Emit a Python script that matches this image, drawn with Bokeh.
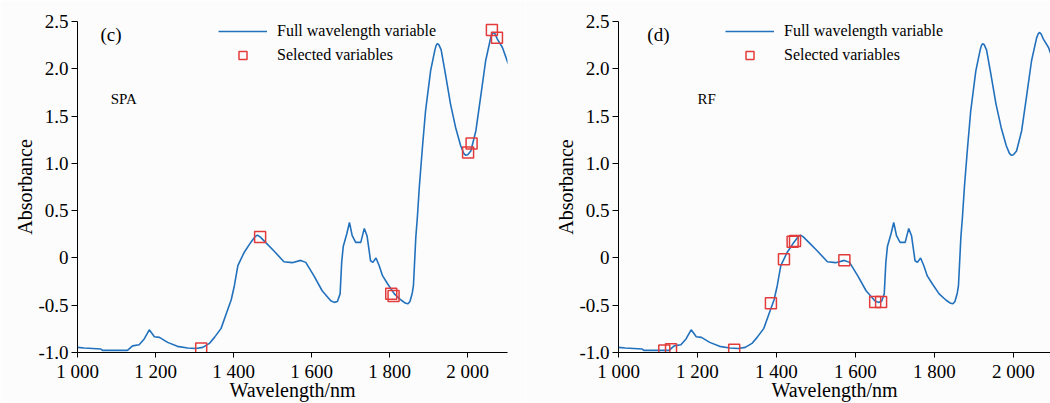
from bokeh.plotting import figure
from bokeh.layouts import row
from bokeh.models import Label, Legend, LegendItem, FixedTicker, Range1d
from bokeh.embed import file_html
from bokeh.resources import INLINE

# Spectrum (wavelength in nm, absorbance)
wavelength = [1000, 1017, 1060, 1064, 1128, 1141, 1158, 1171, 1184, 1197, 1210, 1231, 1256,
              1282, 1303, 1321, 1338, 1351, 1368, 1381, 1394, 1402, 1411, 1427, 1444, 1455,
              1461, 1468, 1482, 1503, 1529, 1550, 1572, 1585, 1606, 1627, 1649, 1658, 1666,
              1673, 1677, 1681, 1690, 1697, 1704, 1713, 1726, 1735, 1742, 1751, 1757, 1765,
              1773, 1782, 1795, 1812, 1829, 1841, 1847, 1852, 1858, 1861, 1867, 1871, 1876,
              1884, 1892, 1905, 1912, 1916, 1919, 1922, 1926, 1932, 1943, 1956, 1969, 1982,
              1990, 1995, 2000, 2008, 2021, 2033, 2046, 2059, 2063, 2066, 2070, 2076, 2089,
              2104]
absorbance = [-0.946, -0.953, -0.963, -0.978, -0.978, -0.93, -0.918, -0.857, -0.76, -0.833,
              -0.84, -0.893, -0.935, -0.953, -0.957, -0.946, -0.904, -0.84, -0.745, -0.593,
              -0.442, -0.294, -0.082, 0.058, 0.164, 0.225, 0.242, 0.222, 0.164, 0.076, -0.04,
              -0.05, -0.026, -0.047, -0.19, -0.347, -0.453, -0.47, -0.46, -0.38, -0.05, 0.12,
              0.253, 0.375, 0.235, 0.164, 0.164, 0.312, 0.235, -0.03, -0.047, -0.001, -0.08,
              -0.19, -0.276, -0.38, -0.445, -0.48, -0.485, -0.46, -0.37, -0.29, 0.217, 0.43,
              0.75, 1.17, 1.556, 1.98, 2.12, 2.2, 2.245, 2.267, 2.255, 2.2, 1.944, 1.627, 1.38,
              1.186, 1.105, 1.085, 1.09, 1.13, 1.345, 1.697, 2.085, 2.33, 2.37, 2.384, 2.37,
              2.314, 2.225, 2.05]

# Selected variables
spa_wl = [1317, 1468, 1804, 1810, 2001, 2010, 2062, 2075]
spa_ab = [-0.957, 0.222, -0.378, -0.403, 1.115, 1.21, 2.41, 2.328]
rf_wl = [1116, 1133, 1293, 1386, 1419, 1441, 1447, 1572, 1650, 1665]
rf_ab = [-0.98, -0.965, -0.97, -0.48, -0.014, 0.17, 0.18, -0.025, -0.465, -0.465]

x_ticks = [1000, 1200, 1400, 1600, 1800, 2000]
x_tick_labels = ["1 000", "1 200", "1 400", "1 600", "1 800", "2 000"]
y_ticks = [-1.0, -0.5, 0.0, 0.5, 1.0, 1.5, 2.0, 2.5]
y_tick_labels = ["-1.0", "-0.5", "0", "0.5", "1.0", "1.5", "2.0", "2.5"]

legend_labels = ["Full wavelength variable", "Selected variables"]
x_title = "Wavelength/nm"
y_title = "Absorbance"

FONT = "Liberation Serif"
BLUE = "#2271bd"
RED = "#e23b3b"
BG = "#fcfcfc"


def panel(sel_wl, sel_ab, tag, method, x_end, width, border_left, border_right,
          legend_x, tag_x, method_x):
    p = figure(width=width, height=403, output_backend="svg", toolbar_location=None,
               x_range=Range1d(1000, x_end), y_range=Range1d(-1.0, 2.5),
               min_border_left=border_left, min_border_right=border_right,
               min_border_top=21, min_border_bottom=51)
    p.background_fill_color = BG
    p.border_fill_color = BG
    p.outline_line_color = None
    p.grid.visible = False

    ln = p.line(wavelength, absorbance, line_color=BLUE, line_width=1.6)
    sq = p.scatter(sel_wl, sel_ab, marker="square", size=11, fill_color=None,
                   line_color=RED, line_width=1.5)

    p.xaxis.ticker = FixedTicker(ticks=x_ticks)
    p.xaxis.major_label_overrides = {float(t): s for t, s in zip(x_ticks, x_tick_labels)}
    p.yaxis.ticker = FixedTicker(ticks=y_ticks)
    p.yaxis.major_label_overrides = {float(t): s for t, s in zip(y_ticks, y_tick_labels)}

    for ax in (p.xaxis[0], p.yaxis[0]):
        ax.axis_line_color = "black"
        ax.axis_line_width = 1
        ax.major_tick_line_color = "black"
        ax.major_tick_in = 0
        ax.minor_tick_line_color = None
        ax.major_label_text_font = FONT
        ax.major_label_text_font_size = "19px"
        ax.major_label_text_color = "black"
        ax.axis_label_text_font = FONT
        ax.axis_label_text_font_size = "20px"
        ax.axis_label_text_font_style = "normal"
        ax.axis_label_text_color = "black"
    p.xaxis.axis_label = x_title
    p.xaxis.major_tick_out = 5
    p.xaxis.major_label_standoff = 3
    p.xaxis.axis_label_standoff = -6
    p.yaxis.axis_label = y_title
    p.yaxis.major_tick_out = 6
    p.yaxis.major_label_standoff = 3
    p.yaxis.axis_label_standoff = -1

    legend = Legend(items=[LegendItem(label=legend_labels[0], renderers=[ln]),
                           LegendItem(label=legend_labels[1], renderers=[sq])],
                    location=(legend_x, 287), orientation="vertical",
                    glyph_width=49, glyph_height=20, label_height=20, spacing=4,
                    label_standoff=10, padding=0, margin=0,
                    background_fill_alpha=0, border_line_color=None,
                    label_text_font=FONT, label_text_font_size="16px",
                    label_text_color="black")
    p.add_layout(legend)

    p.add_layout(Label(x=tag_x, y=2.36, text=tag, text_font=FONT, text_font_size="19px",
                       text_baseline="middle", text_align="left", text_color="black"))
    p.add_layout(Label(x=method_x, y=1.68, text=method, text_font=FONT,
                       text_font_size="15px", text_baseline="middle", text_align="left",
                       text_color="black"))
    return p


p1 = panel(spa_wl, spa_ab, "(c)", "SPA", 2102, 525, 77, 18, 141, 1059, 1085)
p2 = panel(rf_wl, rf_ab, "(d)", "RF", 2094, 525, 93, 0, 107, 1073, 1200)

layout = row(p1, p2)
layout.spacing = 0
open("out.html", "w").write(file_html(layout, INLINE))
